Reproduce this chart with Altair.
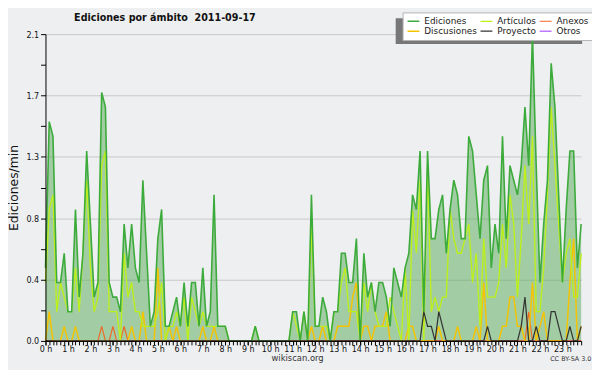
import altair as alt
import pandas as pd

# ---- data: edits per minute, 10-minute bins (144 per day) ----
ediciones = [
    0.5, 1.5, 1.4, 0.4, 0.4, 0.6, 0.2, 0.2, 0.9, 0.3, 0.6, 1.3,
    0.8, 0.3, 0.4, 1.7, 1.6, 0.4, 0.3, 0.3, 0.2, 0.8, 0.5, 0.8,
    0.5, 0.4, 1.1, 0.6, 0.1, 0.2, 0.7, 0.9, 0.1, 0.1, 0.2, 0.3,
    0.1, 0.4, 0.1, 0.4, 0.4, 0.1, 0.5, 0.1, 0.2, 1.0, 0.1, 0.1,
    0.1, 0.0, 0.0, 0.0, 0.0, 0.0, 0.0, 0.0, 0.1, 0.0, 0.0, 0.0,
    0.0, 0.0, 0.0, 0.0, 0.0, 0.0, 0.2, 0.2, 0.0, 0.2, 0.0, 1.0,
    0.1, 0.1, 0.3, 0.2, 0.0, 0.2, 0.2, 0.6, 0.6, 0.4, 0.4, 0.7,
    0.0, 0.6, 0.3, 0.4, 0.2, 0.4, 0.4, 0.3, 0.1, 0.5, 0.4, 0.3,
    0.5, 0.6, 1.0, 0.9, 1.3, 0.2, 1.3, 0.7, 0.7, 0.9, 1.0, 0.6,
    0.9, 1.1, 1.0, 0.7, 0.7, 1.4, 1.3, 1.0, 0.7, 1.1, 1.2, 0.5,
    0.8, 0.6, 1.4, 0.7, 1.2, 1.1, 1.0, 1.2, 1.6, 1.2, 2.1, 1.2,
    0.4, 0.8, 1.1, 1.9, 1.6, 1.0, 0.4, 0.9, 1.3, 1.3, 0.5, 0.8,
]
articulos = [
    0.4, 0.9, 1.0, 0.2, 0.4, 0.3, 0.2, 0.2, 0.5, 0.2, 0.6, 1.1,
    0.5, 0.2, 0.3, 1.2, 1.3, 0.2, 0.2, 0.2, 0.0, 0.6, 0.3, 0.4,
    0.2, 0.2, 0.1, 0.1, 0.1, 0.1, 0.2, 0.4, 0.0, 0.1, 0.1, 0.2,
    0.1, 0.3, 0.0, 0.3, 0.2, 0.1, 0.2, 0.1, 0.1, 0.1, 0.1, 0.1,
    0.1, 0.0, 0.0, 0.0, 0.0, 0.0, 0.0, 0.0, 0.1, 0.0, 0.0, 0.0,
    0.0, 0.0, 0.0, 0.0, 0.0, 0.0, 0.2, 0.1, 0.0, 0.2, 0.0, 0.8,
    0.1, 0.1, 0.1, 0.1, 0.0, 0.2, 0.2, 0.4, 0.5, 0.2, 0.2, 0.2,
    0.0, 0.4, 0.2, 0.4, 0.2, 0.1, 0.1, 0.1, 0.3, 0.2, 0.1, 0.0,
    0.5, 0.0, 0.9, 0.6, 1.1, 0.0, 1.2, 0.2, 0.3, 0.2, 0.3, 0.3,
    0.9, 0.7, 0.6, 0.6, 0.7, 0.8, 0.4, 0.6, 0.1, 0.7, 0.3, 0.3,
    0.3, 0.4, 0.8, 0.5, 1.0, 0.8, 0.3, 0.7, 1.2, 0.8, 1.4, 0.2,
    0.2, 0.5, 1.0, 1.6, 1.2, 0.8, 0.4, 0.6, 0.7, 0.3, 0.3, 0.6,
]
anexos = [
    0.0, 0.0, 0.0, 0.0, 0.0, 0.0, 0.0, 0.0, 0.0, 0.0, 0.0, 0.0,
    0.0, 0.0, 0.0, 0.1, 0.0, 0.0, 0.1, 0.0, 0.0, 0.1, 0.0, 0.0,
    0.0, 0.0, 0.0, 0.0, 0.0, 0.0, 0.0, 0.0, 0.0, 0.0, 0.0, 0.0,
    0.0, 0.0, 0.0, 0.0, 0.0, 0.0, 0.0, 0.0, 0.0, 0.0, 0.0, 0.0,
    0.0, 0.0, 0.0, 0.0, 0.0, 0.0, 0.0, 0.0, 0.0, 0.0, 0.0, 0.0,
    0.0, 0.0, 0.0, 0.0, 0.0, 0.0, 0.0, 0.0, 0.0, 0.0, 0.0, 0.0,
    0.0, 0.0, 0.0, 0.0, 0.0, 0.0, 0.0, 0.0, 0.0, 0.0, 0.0, 0.0,
    0.0, 0.0, 0.0, 0.0, 0.0, 0.0, 0.0, 0.0, 0.0, 0.0, 0.0, 0.0,
    0.0, 0.0, 0.0, 0.0, 0.0, 0.0, 0.0, 0.0, 0.0, 0.0, 0.0, 0.0,
    0.0, 0.0, 0.0, 0.0, 0.0, 0.0, 0.0, 0.0, 0.0, 0.0, 0.0, 0.0,
    0.0, 0.0, 0.0, 0.0, 0.0, 0.0, 0.0, 0.0, 0.0, 0.2, 0.0, 0.0,
    0.0, 0.0, 0.0, 0.0, 0.0, 0.0, 0.0, 0.0, 0.0, 0.0, 0.0, 0.0,
]
discusiones = [
    0.0, 0.2, 0.0, 0.0, 0.0, 0.1, 0.0, 0.0, 0.1, 0.0, 0.0, 0.0,
    0.0, 0.0, 0.0, 0.0, 0.0, 0.0, 0.0, 0.0, 0.0, 0.0, 0.0, 0.1,
    0.0, 0.0, 0.2, 0.0, 0.0, 0.0, 0.5, 0.0, 0.0, 0.1, 0.0, 0.1,
    0.0, 0.0, 0.0, 0.0, 0.0, 0.0, 0.1, 0.0, 0.0, 0.1, 0.0, 0.0,
    0.0, 0.0, 0.0, 0.0, 0.0, 0.0, 0.0, 0.0, 0.0, 0.0, 0.0, 0.0,
    0.0, 0.0, 0.0, 0.0, 0.0, 0.0, 0.0, 0.0, 0.0, 0.0, 0.0, 0.1,
    0.0, 0.0, 0.1, 0.0, 0.0, 0.0, 0.1, 0.1, 0.1, 0.1, 0.3, 0.4,
    0.0, 0.1, 0.1, 0.0, 0.1, 0.1, 0.1, 0.2, 0.0, 0.0, 0.0, 0.0,
    0.0, 0.1, 0.1, 0.0, 0.0, 0.0, 0.0, 0.0, 0.0, 0.1, 0.0, 0.0,
    0.0, 0.0, 0.1, 0.0, 0.0, 0.0, 0.0, 0.1, 0.0, 0.4, 0.0, 0.0,
    0.0, 0.0, 0.1, 0.1, 0.3, 0.3, 0.1, 0.1, 0.0, 0.0, 0.4, 0.0,
    0.1, 0.2, 0.0, 0.0, 0.0, 0.0, 0.0, 0.0, 0.4, 0.7, 0.0, 0.1,
]
proyecto = [
    0.0, 0.0, 0.0, 0.0, 0.0, 0.0, 0.0, 0.0, 0.0, 0.0, 0.0, 0.0,
    0.0, 0.0, 0.0, 0.0, 0.0, 0.0, 0.0, 0.0, 0.0, 0.0, 0.0, 0.0,
    0.0, 0.0, 0.0, 0.0, 0.0, 0.0, 0.0, 0.0, 0.0, 0.0, 0.0, 0.0,
    0.0, 0.0, 0.0, 0.0, 0.0, 0.0, 0.0, 0.0, 0.0, 0.0, 0.0, 0.0,
    0.0, 0.0, 0.0, 0.0, 0.0, 0.0, 0.0, 0.0, 0.0, 0.0, 0.0, 0.0,
    0.0, 0.0, 0.0, 0.0, 0.0, 0.0, 0.0, 0.0, 0.0, 0.0, 0.0, 0.0,
    0.0, 0.0, 0.0, 0.0, 0.0, 0.0, 0.0, 0.0, 0.0, 0.0, 0.0, 0.0,
    0.0, 0.0, 0.0, 0.0, 0.0, 0.0, 0.0, 0.0, 0.0, 0.0, 0.0, 0.0,
    0.0, 0.0, 0.0, 0.0, 0.0, 0.2, 0.1, 0.1, 0.0, 0.2, 0.1, 0.0,
    0.0, 0.0, 0.0, 0.0, 0.0, 0.0, 0.0, 0.0, 0.0, 0.0, 0.1, 0.0,
    0.0, 0.0, 0.0, 0.0, 0.0, 0.0, 0.0, 0.1, 0.3, 0.0, 0.0, 0.1,
    0.0, 0.0, 0.0, 0.2, 0.2, 0.1, 0.0, 0.0, 0.1, 0.0, 0.0, 0.1,
]
otros = [0.0] * 144

title_text = "Ediciones por ámbito\u00a0 2011-09-17"
# legend order (Vega fills the 3x2 grid column by column)
series_names = ["Ediciones", "Discusiones", "Artículos", "Proyecto", "Anexos", "Otros"]
series_colors = ["#3cab3c", "#f5c400", "#bdf019", "#333333", "#f26522", "#9b30ff"]
series_widths = [1.6, 1.0, 1.0, 1.0, 1.0, 1.0]
draw_order = ["Otros", "Anexos", "Discusiones", "Artículos", "Ediciones", "Proyecto"]

hour_ticks = list(range(24))
bin_ticks = [i / 6 for i in range(144)]
y_major = [0.0, 0.42, 0.84, 1.26, 1.68, 2.1]
y_all = [round(k * 0.21, 2) for k in range(11)]

BG = "#eeeff1"
COND = "DejaVu Sans Condensed, Liberation Sans Narrow, DejaVu Sans"
W, H = 543, 311

wide = pd.DataFrame({
    "t": bin_ticks,
    "Ediciones": ediciones,
    "Artículos": articulos,
    "Anexos": anexos,
    "Discusiones": discusiones,
    "Proyecto": proyecto,
    "Otros": otros,
})
long = wide.melt(id_vars="t", value_vars=draw_order, var_name="serie", value_name="v")

x_scale = alt.Scale(domain=[0, bin_ticks[-1]], nice=False, zero=False)
y_scale = alt.Scale(domain=[0, 2.1], nice=False)

area = alt.Chart(wide).mark_area(color="#55aa55", opacity=0.5).encode(
    x=alt.X("t:Q", scale=x_scale, axis=alt.Axis(
        orient="bottom", values=bin_ticks, labels=False, domain=False,
        ticks=True, tickSize=4, tickColor="#000000", tickWidth=1, grid=False,
        title="CC BY-SA 3.0", titleFont="DejaVu Sans", titleFontSize=6.5,
        titleFontWeight="normal", titleColor="#333333",
        titleX=532, titleY=15, titleAlign="center", titleBaseline="top",
        zindex=1)),
    y=alt.Y("Ediciones:Q", scale=y_scale, axis=alt.Axis(
        orient="left", values=y_major, grid=True, gridColor="#c8c8c8",
        gridWidth=1, labels=False, ticks=False, domain=False, title=None,
        zindex=0)),
)

lines = alt.Chart(long).mark_line(interpolate="linear").encode(
    x=alt.X("t:Q", scale=x_scale, axis=alt.Axis(
        orient="bottom", values=hour_ticks, labelExpr="datum.value + ' h'",
        tickSize=4, tickColor="#000000", domainColor="#000000", domainWidth=1,
        labelFont=COND, labelFontSize=9, labelColor="#111111", labelPadding=0,
        labelFlush=False, labelOverlap=False, grid=False,
        title="wikiscan.org", titleFont="DejaVu Sans", titleFontSize=8.5,
        titleFontWeight="normal", titleColor="#333333",
        titleX=255, titleY=13, titleAlign="center", titleBaseline="top",
        zindex=1)),
    y=alt.Y("v:Q", scale=y_scale, axis=alt.Axis(
        orient="left", values=y_all,
        labelExpr="round(datum.value*100) % 42 == 0 ? format(datum.value, '.1f') : ''",
        tickSize=5, tickColor="#000000", domainColor="#000000", domainWidth=1,
        labelFont=COND, labelFontSize=9, labelColor="#111111", labelPadding=2,
        grid=False, title="Ediciones/min", titleFont="DejaVu Sans",
        titleFontSize=12.5, titleFontWeight="normal", titleColor="#111111",
        titlePadding=5, zindex=1)),
    color=alt.Color("serie:N", scale=alt.Scale(domain=series_names, range=series_colors),
        legend=alt.Legend(
            title=None, orient="none", legendX=362, legendY=-22, columns=3,
            symbolType="stroke", symbolSize=144, symbolStrokeWidth=1.5,
            labelFont="DejaVu Sans", labelFontSize=9, labelColor="#222222",
            labelOffset=4, fillColor="#ffffff", strokeColor="#b4b4b4",
            padding=4, rowPadding=0, columnPadding=2, clipHeight=10)),
    strokeWidth=alt.StrokeWidth("serie:N", scale=alt.Scale(domain=series_names, range=series_widths), legend=None),
)

shadow = alt.Chart(pd.DataFrame({"k": [0]})).mark_rect(color="#777777").encode(
    x=alt.value(355), x2=alt.value(544), y=alt.value(-16), y2=alt.value(10)
)

title = alt.Chart(pd.DataFrame({"label": [title_text]})).mark_text(
    align="left", baseline="alphabetic", font=COND, fontSize=10.8,
    fontWeight="bold", color="#111111"
).encode(text="label:N", x=alt.value(29), y=alt.value(-13))

chart = alt.layer(area, shadow, lines, title).resolve_axis(x="independent", y="independent").properties(
    width=W, height=H,
    autosize=alt.AutoSizeParams(type="none"),
    padding={"left": 38, "top": 24, "right": 11, "bottom": 27},
    background=BG,
).configure_view(strokeWidth=0, fill=BG)

chart.save("out.html", embed_options={"renderer": "svg", "actions": False})
